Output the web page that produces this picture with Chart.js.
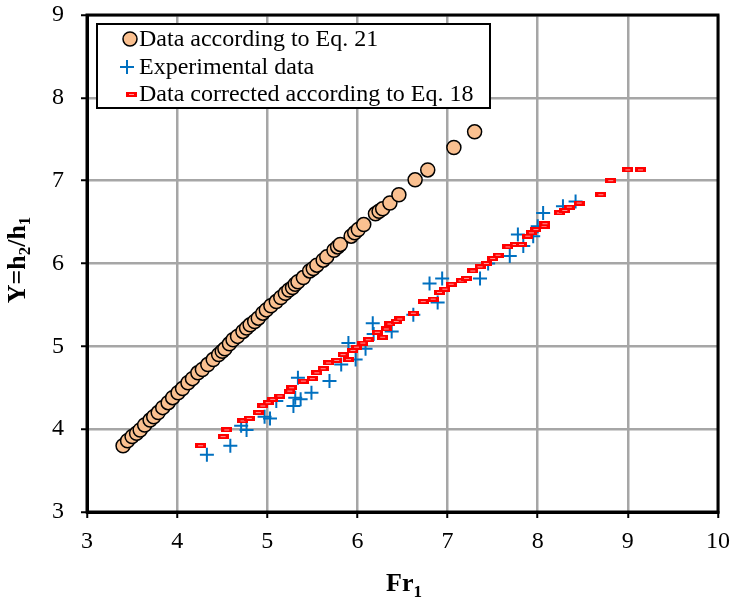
<!DOCTYPE html>
<html>
<head>
<meta charset="utf-8">
<script src="https://cdn.jsdelivr.net/npm/chart.js@4.4.1/dist/chart.umd.min.js"></script>
<style>
  html, body { margin: 0; padding: 0; background: #fff; }
  #wrap { width: 735px; height: 600px; }
</style>
</head>
<body>
<div id="wrap"><canvas id="myChart" width="735" height="600"></canvas></div>
<script>
// data
const eq21X = [3.40, 3.45, 3.50, 3.55, 3.59, 3.64, 3.70, 3.74, 3.79, 3.84, 3.90, 3.95, 4.01, 4.06, 4.12, 4.17,
  4.23, 4.28, 4.34, 4.40, 4.46, 4.50, 4.53, 4.58, 4.62, 4.67, 4.73, 4.77, 4.81, 4.86, 4.90, 4.95, 4.99, 5.04,
  5.10, 5.15, 5.20, 5.24, 5.28, 5.31, 5.34, 5.40, 5.47, 5.51, 5.55, 5.62, 5.66, 5.74, 5.78, 5.81, 5.93, 5.97,
  6.01, 6.07, 6.20, 6.24, 6.28, 6.36, 6.46, 6.64, 6.78, 7.07, 7.30];
const eq21Y = [3.80, 3.86, 3.91, 3.95, 3.99, 4.05, 4.11, 4.15, 4.20, 4.26, 4.32, 4.38, 4.44, 4.49, 4.56, 4.61,
  4.68, 4.72, 4.78, 4.84, 4.90, 4.94, 4.97, 5.03, 5.08, 5.12, 5.18, 5.22, 5.26, 5.30, 5.34, 5.40, 5.44, 5.49,
  5.54, 5.59, 5.64, 5.68, 5.71, 5.75, 5.78, 5.83, 5.91, 5.94, 5.98, 6.04, 6.08, 6.16, 6.20, 6.23, 6.33, 6.37,
  6.41, 6.47, 6.60, 6.63, 6.66, 6.73, 6.83, 7.01, 7.13, 7.40, 7.59];

const expX = [4.33, 4.59, 4.71, 4.77, 4.97, 5.03, 5.10, 5.29, 5.31, 5.34, 5.37, 5.49, 5.69, 5.82, 5.90, 5.98,
  6.09, 6.17, 6.18, 6.38, 6.62, 6.80, 6.89, 6.94, 7.36, 7.45, 7.69, 7.78, 7.84, 7.95, 8.00, 8.06, 8.28, 8.42];
const expY = [3.69, 3.80, 4.04, 3.99, 4.15, 4.13, 4.34, 4.28, 4.38, 4.62, 4.36, 4.44, 4.58, 4.78, 5.04, 4.84,
  4.97, 5.28, 5.15, 5.18, 5.38, 5.76, 5.53, 5.82, 5.82, 6.00, 6.09, 6.35, 6.21, 6.33, 6.45, 6.61, 6.69, 6.75];

const corX = [4.26, 4.51, 4.55, 4.73, 4.80, 4.90, 4.95, 5.01, 5.06, 5.14, 5.25, 5.27, 5.40, 5.50, 5.55, 5.62,
  5.68, 5.77, 5.84, 5.90, 5.95, 5.99, 6.06, 6.12, 6.22, 6.28, 6.32, 6.36, 6.43, 6.47, 6.62, 6.73, 6.84, 6.91,
  6.97, 7.04, 7.15, 7.21, 7.28, 7.36, 7.43, 7.50, 7.56, 7.67, 7.75, 7.82, 7.89, 7.93, 7.98, 8.07, 8.08, 8.24,
  8.30, 8.35, 8.46, 8.70, 8.81, 9.00, 9.14];
const corY = [3.80, 3.91, 3.99, 4.10, 4.13, 4.20, 4.28, 4.32, 4.36, 4.40, 4.46, 4.50, 4.58, 4.61, 4.68, 4.73,
  4.80, 4.83, 4.90, 4.84, 4.95, 4.99, 5.04, 5.08, 5.17, 5.11, 5.21, 5.27, 5.30, 5.33, 5.40, 5.54, 5.57, 5.65,
  5.69, 5.75, 5.79, 5.82, 5.91, 5.96, 6.00, 6.06, 6.10, 6.20, 6.23, 6.23, 6.33, 6.37, 6.41, 6.45, 6.48, 6.61,
  6.64, 6.68, 6.73, 6.83, 7.00, 7.13, 7.13];

const xTicks = [3, 4, 5, 6, 7, 8, 9, 10];
const yTicks = [3, 4, 5, 6, 7, 8, 9];

const seriesNames = ['Data according to Eq. 21', 'Experimental data', 'Data corrected according to Eq. 18'];

function toPoints(xs, ys) {
  return xs.map(function (x, i) { return { x: x, y: ys[i] }; });
}

// red dash marker
const dash = document.createElement('canvas');
dash.width = 11;
dash.height = 5;
(function () {
  const c = dash.getContext('2d');
  c.fillStyle = '#ff0000';
  c.fillRect(0, 0, 11, 5);
  c.fillStyle = '#ff9a9a';
  c.fillRect(3, 2, 5, 1);
})();

const serif = "'Liberation Serif', 'Times New Roman', serif";

// legend box inside the plot + box + axis titles with subscripts
const extras = {
  id: 'extras',
  afterDraw(chart) {
    const ctx = chart.ctx;
    const a = chart.chartArea;
    ctx.save();
    ctx.strokeStyle = '#000';
    ctx.lineWidth = 3;
    ctx.strokeRect(a.left, a.top, a.right - a.left, a.bottom - a.top);

    // legend
    ctx.fillStyle = '#fff';
    ctx.fillRect(97, 24, 393, 84);
    ctx.lineWidth = 2;
    ctx.strokeRect(97, 24, 393, 84);

    ctx.beginPath();
    ctx.arc(130, 39, 7, 0, Math.PI * 2);
    ctx.fillStyle = '#fac090';
    ctx.fill();
    ctx.lineWidth = 1.5;
    ctx.strokeStyle = '#000';
    ctx.stroke();

    ctx.beginPath();
    ctx.strokeStyle = '#0070c0';
    ctx.lineWidth = 2;
    ctx.moveTo(120, 67); ctx.lineTo(134, 67);
    ctx.moveTo(127, 60); ctx.lineTo(127, 74);
    ctx.stroke();

    ctx.drawImage(dash, 126, 92);

    ctx.fillStyle = '#000';
    ctx.font = '24px ' + serif;
    ctx.textBaseline = 'middle';
    ctx.textAlign = 'left';
    ctx.fillText(seriesNames[0], 139, 40);
    ctx.fillText(seriesNames[1], 139, 68);
    ctx.fillText(seriesNames[2], 139, 95);

    // x title: Fr1
    ctx.textBaseline = 'alphabetic';
    ctx.font = 'bold 26px ' + serif;
    const w1 = ctx.measureText('Fr').width;
    ctx.font = 'bold 17px ' + serif;
    const w2 = ctx.measureText('1').width;
    let x0 = 404 - (w1 + w2) / 2;
    ctx.font = 'bold 26px ' + serif;
    ctx.fillText('Fr', x0, 591);
    ctx.font = 'bold 17px ' + serif;
    ctx.fillText('1', x0 + w1, 597);

    // y title: Y=h2/h1 rotated
    ctx.translate(25, 260);
    ctx.rotate(-Math.PI / 2);
    const parts = [['Y=h', 0], ['2', 1], ['/h', 0], ['1', 1]];
    let total = 0;
    parts.forEach(function (p) {
      ctx.font = (p[1] ? 'bold 17px ' : 'bold 26px ') + serif;
      total += ctx.measureText(p[0]).width;
    });
    let cx = -total / 2;
    parts.forEach(function (p) {
      ctx.font = (p[1] ? 'bold 17px ' : 'bold 26px ') + serif;
      ctx.fillText(p[0], cx, p[1] ? 5 : 0);
      cx += ctx.measureText(p[0]).width;
    });
    ctx.restore();
  }
};

const data = {
  datasets: [{
    label: seriesNames[0],
    data: toPoints(eq21X, eq21Y),
    pointStyle: 'circle',
    pointRadius: 7,
    pointBackgroundColor: '#fac090',
    pointBorderColor: '#000',
    pointBorderWidth: 1.5,
    order: 0
  }, {
    label: seriesNames[1],
    data: toPoints(expX, expY),
    pointStyle: 'cross',
    pointRadius: 7,
    pointBorderColor: '#0070c0',
    pointBorderWidth: 2,
    order: 2
  }, {
    label: seriesNames[2],
    data: toPoints(corX, corY),
    pointStyle: dash,
    order: 1
  }]
};

const config = {
  type: 'scatter',
  data,
  options: {
    responsive: false,
    animation: false,
    layout: { padding: { top: 15, right: 17, left: 0, bottom: 0 } },
    plugins: {
      legend: { display: false },
      tooltip: { enabled: false }
    },
    scales: {
      x: {
        min: 3,
        max: 10,
        afterBuildTicks: function (s) { s.ticks = xTicks.map(function (v) { return { value: v }; }); },
        afterFit: function (s) { s.height = 88; s.paddingLeft = 0; s.paddingRight = 0; },
        grid: { color: '#a6a6a6', lineWidth: 2.5, tickColor: '#000', tickWidth: 2, tickLength: 6 },
        border: { display: true, color: '#000', width: 3 },
        ticks: { color: '#000', padding: 9, maxRotation: 0, font: { family: serif, size: 24 } }
      },
      y: {
        min: 3,
        max: 9,
        afterBuildTicks: function (s) { s.ticks = yTicks.map(function (v) { return { value: v }; }); },
        afterFit: function (s) { s.width = 87; s.paddingTop = 0; s.paddingBottom = 0; },
        grid: { color: '#a6a6a6', lineWidth: 2.5, tickColor: '#000', tickWidth: 2, tickLength: 6 },
        border: { display: true, color: '#000', width: 3 },
        ticks: { color: '#000', padding: 17, font: { family: serif, size: 24 } }
      }
    }
  },
  plugins: [extras]
};

const myChart = new Chart(document.getElementById('myChart'), config);
</script>
</body>
</html>
